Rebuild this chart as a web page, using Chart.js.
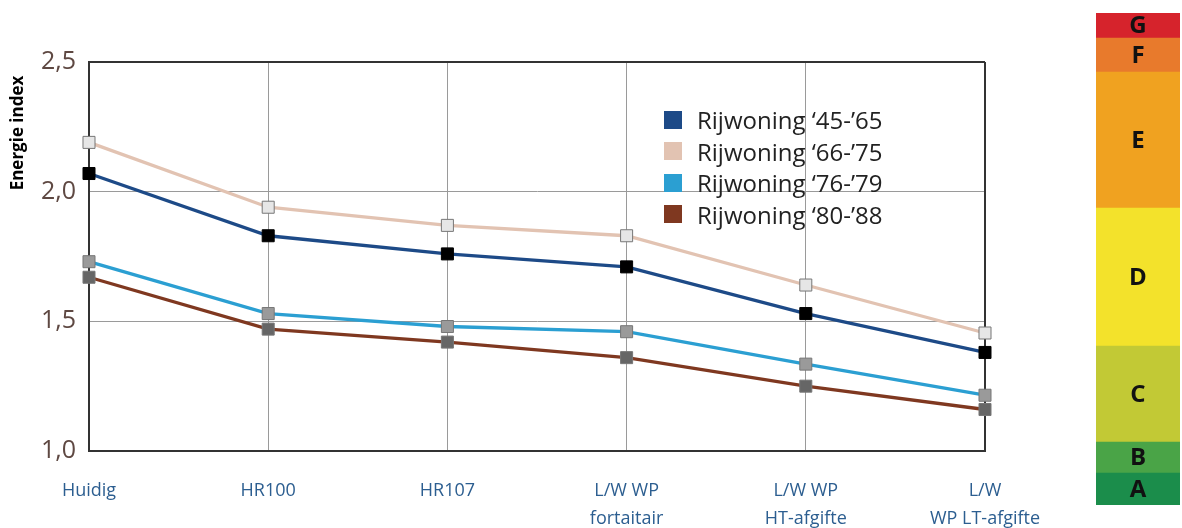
<!DOCTYPE html>
<html>
<head>
<meta charset="utf-8">
<script src="https://cdn.jsdelivr.net/npm/chart.js@4"></script>
<style>
  html,body{margin:0;padding:0;background:#fff;}
  #wrap{position:relative;width:1182px;height:528px;overflow:hidden;}
  #main{position:absolute;left:0;top:0;width:1090px;height:528px;}
  #label{position:absolute;left:1096px;top:13px;width:84px;height:492px;}
  #legend{position:absolute;left:664px;top:104px;font-family:"Open Sans",sans-serif;font-size:24px;color:#222;}
  #legend .row{display:flex;align-items:center;height:31.5px;}
  #legend .sw{width:18px;height:18px;margin-right:15px;}
</style>
</head>
<body>
<div id="wrap">
  <div id="main"><canvas id="chart"></canvas></div>
  <div id="legend"></div>
  <div id="label"><canvas id="chartLabel"></canvas></div>
</div>
<script>
// data
const categorieen = ["Huidig", "HR100", "HR107", ["L/W WP", "fortaitair"], ["L/W WP", "HT-afgifte"], ["L/W", "WP LT-afgifte"]];
const reeksNamen = ["Rijwoning \u201845-\u201965", "Rijwoning \u201866-\u201975", "Rijwoning \u201876-\u201979", "Rijwoning \u201880-\u201988"];
const rij4565 = [2.07, 1.83, 1.76, 1.71, 1.53, 1.38];
const rij6675 = [2.19, 1.94, 1.87, 1.83, 1.64, 1.455];
const rij7679 = [1.73, 1.53, 1.48, 1.46, 1.335, 1.215];
const rij8088 = [1.67, 1.47, 1.42, 1.36, 1.25, 1.16];
const yTicks = [1.0, 1.5, 2.0, 2.5];

const labelKlassen = ["A", "B", "C", "D", "E", "F", "G"];
const labelHoogte = [32, 31, 96, 138, 136, 34, 25];

const lijnKleuren = ["#1d4a87", "#e2c3b2", "#2b9fd2", "#7f3820"];
const puntKleuren = ["#000000", "#e6e6e6", "#9a9a9a", "#666666"];
const labelKleuren = ["#1b8d4b", "#4aa447", "#c2c935", "#f3e22b", "#f0a220", "#e87a2c", "#d6232c"];

const series = [rij4565, rij6675, rij7679, rij8088];

const datasets = series.map((s, i) => ({
  label: reeksNamen[i],
  data: s,
  borderColor: lijnKleuren[i],
  borderWidth: 3.3,
  pointStyle: "rect",
  pointRadius: 8.5,
  pointBackgroundColor: puntKleuren[i],
  pointBorderColor: i === 0 ? "#000" : "#777",
  pointBorderWidth: 1,
  tension: 0,
  clip: false,
  order: i
}));

new Chart(document.getElementById("chart"), {
  type: "line",
  data: { labels: categorieen, datasets },
  options: {
    responsive: true,
    maintainAspectRatio: false,
    animation: false,
    layout: { padding: { left: 0, right: 105, top: 62, bottom: 0 } },
    plugins: { legend: { display: false }, tooltip: { enabled: false } },
    scales: {
      x: {
        offset: false,
        grid: { color: "#9a9a9a", lineWidth: 1, drawTicks: false },
        border: { color: "#333", width: 2 },
        ticks: { color: "#2c5e90", font: { family: "Open Sans", size: 18, lineHeight: 1.55 }, padding: 26, maxRotation: 0, autoSkip: false },
        afterFit: s => { s.height = 77; }
      },
      y: {
        min: 1.0, max: 2.5,
        afterBuildTicks: s => { s.ticks = yTicks.map(v => ({ value: v })); },
        grid: { color: "#9a9a9a", lineWidth: 1, drawTicks: false },
        border: { color: "#333", width: 2 },
        ticks: {
          color: "#5e4842", font: { family: "Open Sans", size: 25 }, padding: 13,
          callback: v => v.toFixed(1).replace(".", ",")
        },
        afterFit: s => { s.width = 89; }
      }
    }
  },
  plugins: [{
    id: "kader",
    beforeDatasetsDraw(chart) {
      const { ctx, chartArea: a } = chart;
      ctx.save();
      ctx.strokeStyle = "#333";
      ctx.lineWidth = 2;
      ctx.beginPath();
      ctx.moveTo(a.left, a.top); ctx.lineTo(a.right, a.top);
      ctx.moveTo(a.right, a.top); ctx.lineTo(a.right, a.bottom);
      ctx.stroke();
      // astitel
      ctx.translate(18, 133);
      ctx.rotate(-Math.PI / 2);
      ctx.fillStyle = "#000";
      ctx.font = "bold 17px 'Open Sans'";
      ctx.textAlign = "center";
      ctx.textBaseline = "middle";
      ctx.fillText("Energie index", 0, 0);
      ctx.restore();
    }
  }]
});

// legend
document.getElementById("legend").innerHTML = reeksNamen.map((n, i) =>
  `<div class="row"><div class="sw" style="background:${lijnKleuren[i]}"></div><span>${n}</span></div>`
).join("");

// energielabel balk
new Chart(document.getElementById("chartLabel"), {
  type: "bar",
  data: {
    labels: [""],
    datasets: labelKlassen.map((k, i) => ({
      label: k, data: [labelHoogte[i]], backgroundColor: labelKleuren[i],
      barPercentage: 1, categoryPercentage: 1, borderWidth: 0
    }))
  },
  options: {
    responsive: true, maintainAspectRatio: false, animation: false,
    plugins: { legend: { display: false }, tooltip: { enabled: false } },
    layout: { padding: 0 },
    scales: {
      x: { stacked: true, display: false },
      y: { stacked: true, display: false, min: 0, max: labelHoogte.reduce((a, b) => a + b, 0) }
    }
  },
  plugins: [{
    id: "letters",
    afterDatasetsDraw(chart) {
      const ctx = chart.ctx;
      ctx.save();
      ctx.fillStyle = "#111";
      ctx.font = "bold 24px 'Open Sans'";
      ctx.textAlign = "center";
      ctx.textBaseline = "middle";
      chart.data.datasets.forEach((d, i) => {
        const el = chart.getDatasetMeta(i).data[0];
        ctx.fillText(d.label, el.x, (el.y + el.base) / 2 + 1);
      });
      ctx.restore();
    }
  }]
});
</script>
</body>
</html>
